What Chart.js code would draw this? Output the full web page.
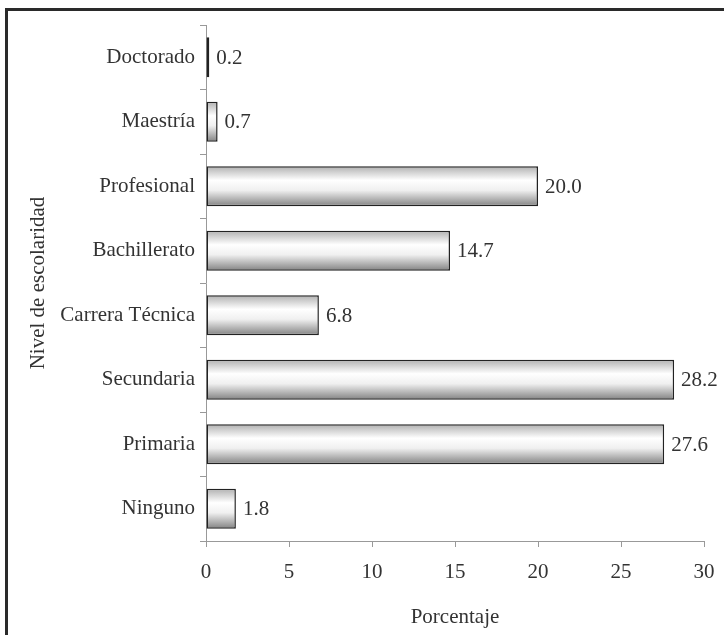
<!DOCTYPE html>
<html>
<head>
<meta charset="utf-8">
<script src="https://cdn.jsdelivr.net/npm/chart.js@4.4.0/dist/chart.umd.min.js"></script>
<style>
  html, body { margin: 0; padding: 0; background: #fff; }
  #wrap { position: relative; width: 724px; height: 635px; overflow: hidden; }
  #frame {
    position: absolute; left: 5px; top: 8px; right: -10px; bottom: -10px;
    border-top: 3px solid #2a2a2a; border-left: 3px solid #2a2a2a;
    pointer-events: none;
  }
  canvas { position: absolute; left: 0; top: 0; }
</style>
</head>
<body>
<div id="wrap">
  <canvas id="chart" width="724" height="635"></canvas>
  <div id="frame"></div>
</div>
<script>
// Education level (top to bottom as drawn) and share in percent
const levels = [
  "Doctorado",
  "Maestría",
  "Profesional",
  "Bachillerato",
  "Carrera Técnica",
  "Secundaria",
  "Primaria",
  "Ninguno",
];
const percentages = [0.2, 0.7, 20.0, 14.7, 6.8, 28.2, 27.6, 1.8];
const xTicks = [0, 5, 10, 15, 20, 25, 30];

const FONT = "'Liberation Serif', 'DejaVu Serif', serif";
const FONT_SIZE = 21;
const BAR_FRACTION = 0.62;

// cylinder-like shading for each bar, worked out from the y scale
function barGradient(context) {
  const chart = context.chart;
  const yScale = chart.scales.y;
  if (!yScale || !chart.chartArea) return "#eeeeee";
  const center = yScale.getPixelForValue(context.dataIndex);
  const thick = (yScale.height / levels.length) * BAR_FRACTION;
  const g = chart.ctx.createLinearGradient(0, center - thick / 2, 0, center + thick / 2);
  g.addColorStop(0, "#b0b0b0");
  g.addColorStop(0.35, "#ffffff");
  g.addColorStop(0.6, "#f0f0f0");
  g.addColorStop(1, "#828282");
  return g;
}

// values written next to the end of each bar
const valueLabels = {
  id: "valueLabels",
  afterDatasetsDraw(chart) {
    const ctx = chart.ctx;
    const meta = chart.getDatasetMeta(0);
    ctx.save();
    ctx.font = FONT_SIZE + "px " + FONT;
    ctx.fillStyle = "#333";
    ctx.textAlign = "left";
    ctx.textBaseline = "middle";
    meta.data.forEach((bar, i) => {
      ctx.fillText(percentages[i].toFixed(1), bar.x + 7, bar.y + 1);
    });
    ctx.restore();
  },
};

new Chart(document.getElementById("chart"), {
  type: "bar",
  data: {
    labels: levels,
    datasets: [
      {
        data: percentages,
        backgroundColor: barGradient,
        borderColor: "#222",
        borderWidth: 1.5,
        borderSkipped: false,
        categoryPercentage: 1,
        barPercentage: BAR_FRACTION,
      },
    ],
  },
  options: {
    indexAxis: "y",
    responsive: false,
    animation: false,
    layout: { padding: { left: 0, right: 20, top: 25, bottom: 0 } },
    plugins: {
      legend: { display: false },
      tooltip: { enabled: false },
    },
    scales: {
      x: {
        min: 0,
        max: 30,
        afterBuildTicks: (s) => { s.ticks = xTicks.map((v) => ({ value: v })); },
        afterFit: (s) => {
          s.height = 94;
          s.paddingLeft = 0;
          s.paddingRight = 0;
        },
        grid: { drawOnChartArea: false, drawTicks: true, tickLength: 6, color: "#999" },
        border: { color: "#999", width: 1 },
        ticks: { color: "#333", font: { family: FONT, size: FONT_SIZE }, padding: 13 },
        title: {
          display: true,
          text: "Porcentaje",
          color: "#333",
          font: { family: FONT, size: FONT_SIZE },
          padding: { top: 0, bottom: 5 },
        },
      },
      y: {
        afterFit: (s) => { s.width = 206; },
        grid: { drawOnChartArea: false, drawTicks: true, tickLength: 6, color: "#999", offset: true },
        border: { color: "#999", width: 1 },
        ticks: { color: "#333", font: { family: FONT, size: FONT_SIZE }, padding: 5 },
        title: {
          display: true,
          text: "Nivel de escolaridad",
          color: "#333",
          font: { family: FONT, size: FONT_SIZE },
          padding: { top: 26, bottom: 0 },
        },
      },
    },
  },
  plugins: [valueLabels],
});
</script>
</body>
</html>
